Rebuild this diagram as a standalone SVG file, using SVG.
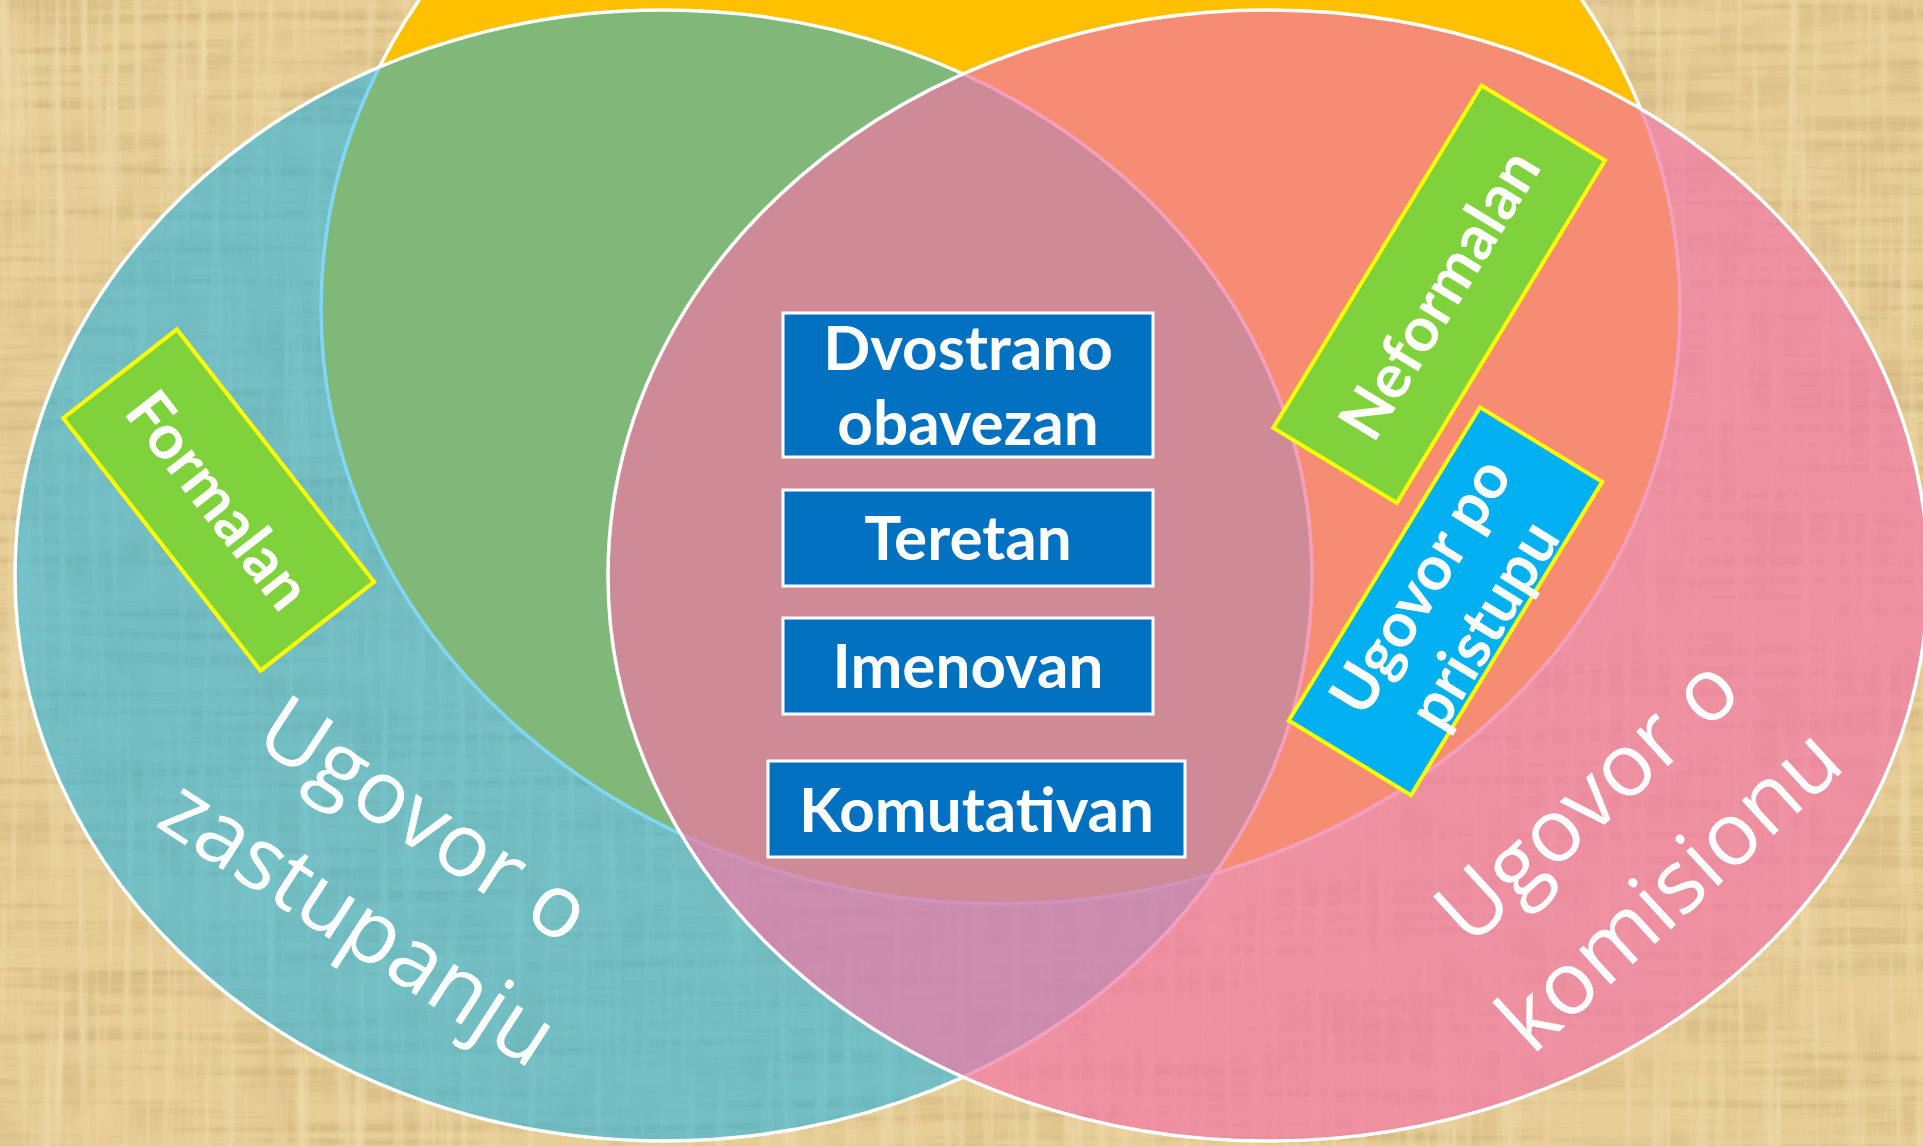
<svg xmlns="http://www.w3.org/2000/svg" width="1923" height="1146" viewBox="0 0 1923 1146">
  <defs>
    <style>
      .ring { stroke: #ffffff; stroke-width: 3.5; }
      .cbox { fill: #0070C0; stroke: #ffffff; stroke-width: 3; }
      .tag-g { fill: #80D23C; stroke: #FFFF00; stroke-width: 4; }
      .tag-b { fill: #00B0F0; stroke: #FFFF00; stroke-width: 4; }
      .lbl { font-family: Lato, "Open Sans", "Liberation Sans", sans-serif; font-weight: 700; font-size: 62px; fill: #ffffff; text-anchor: middle; }
      .big { font-family: "Open Sans", "Liberation Sans", sans-serif; font-weight: 400; font-size: 88px; fill: #ffffff; text-anchor: middle; }
    </style>
    <filter id="papyrus" filterUnits="userSpaceOnUse" x="0" y="0" width="1923" height="1146" color-interpolation-filters="sRGB">
      <feTurbulence type="fractalNoise" baseFrequency="0.004 0.09" numOctaves="3" seed="11" result="h"/>
      <feColorMatrix in="h" type="matrix" values="0 0 0 0 0.62  0 0 0 0 0.48  0 0 0 0 0.25  2.6 0 0 0 -1.2" result="hd"/>
      <feTurbulence type="fractalNoise" baseFrequency="0.09 0.004" numOctaves="3" seed="5" result="v"/>
      <feColorMatrix in="v" type="matrix" values="0 0 0 0 1  0 0 0 0 0.96  0 0 0 0 0.84  2.6 0 0 0 -1.2" result="vl"/>
      <feTurbulence type="fractalNoise" baseFrequency="0.02 0.02" numOctaves="2" seed="8" result="b"/>
      <feColorMatrix in="b" type="matrix" values="0 0 0 0 0.7  0 0 0 0 0.55  0 0 0 0 0.3  2 0 0 0 -0.95" result="bd"/>
      <feMerge><feMergeNode in="bd"/><feMergeNode in="hd"/><feMergeNode in="vl"/></feMerge>
    </filter>
  </defs>

  <g id="background">
    <rect x="0" y="0" width="1923" height="1146" fill="#E7CE97"/>
    <rect x="0" y="0" width="1923" height="1146" fill="#000" filter="url(#papyrus)" opacity="0.24"/>
  </g>

  <g id="circle-top">
    <ellipse class="ring" cx="1000.5" cy="308.5" rx="679.5" ry="595.5" fill="#FFC000"/>
  </g>
  <g id="circle-zastupanje">
    <ellipse class="ring" cx="663.5" cy="575.5" rx="648.5" ry="565.5" fill="#00B0F0" fill-opacity="0.5"/>
  </g>
  <g id="circle-komision">
    <ellipse class="ring" cx="1268" cy="575.5" rx="660" ry="565.5" fill="#F176A4" fill-opacity="0.7"/>
  </g>

  <g id="connectors"></g>

  <g id="label-zastupanje" transform="translate(388 877) rotate(33)">
    <text class="big" x="0" y="-38">Ugovor o</text>
    <text class="big" x="0" y="84">zastupanju</text>
  </g>
  <g id="label-komision" transform="translate(1633 850) rotate(-42.5)">
    <text class="big" x="0" y="-38">Ugovor o</text>
    <text class="big" x="0" y="84">komisionu</text>
  </g>

  <g id="node-dvostrano">
    <rect class="cbox" x="783" y="313" width="370" height="144"/>
    <text class="lbl" x="968" y="370">Dvostrano</text>
    <text class="lbl" x="968" y="445">obavezan</text>
  </g>
  <g id="node-teretan">
    <rect class="cbox" x="783" y="490" width="370" height="96"/>
    <text class="lbl" x="968" y="560">Teretan</text>
  </g>
  <g id="node-imenovan">
    <rect class="cbox" x="783" y="618" width="370" height="96"/>
    <text class="lbl" x="968" y="688">Imenovan</text>
  </g>
  <g id="node-komutativan">
    <rect class="cbox" x="768" y="761" width="417" height="96"/>
    <text class="lbl" x="976.5" y="832">Komutativan</text>
  </g>

  <g id="node-formalan" transform="translate(218.7 500) rotate(52)">
    <rect class="tag-g" x="-160.2" y="-72.1" width="320.4" height="144.2"/>
    <text class="lbl" x="0" y="22">Formalan</text>
  </g>
  <g id="node-neformalan" transform="translate(1439.2 294.2) rotate(-58.7)">
    <rect class="tag-g" x="-200.4" y="-72.3" width="400.8" height="144.6"/>
    <text class="lbl" x="0" y="22">Neformalan</text>
  </g>
  <g id="node-pristupu" transform="translate(1445.5 601.2) rotate(-58.6)">
    <rect class="tag-b" x="-183.5" y="-71.6" width="367" height="143.2"/>
    <text class="lbl" x="0" y="-8">Ugovor po</text>
    <text class="lbl" x="0" y="66">pristupu</text>
  </g>
</svg>
